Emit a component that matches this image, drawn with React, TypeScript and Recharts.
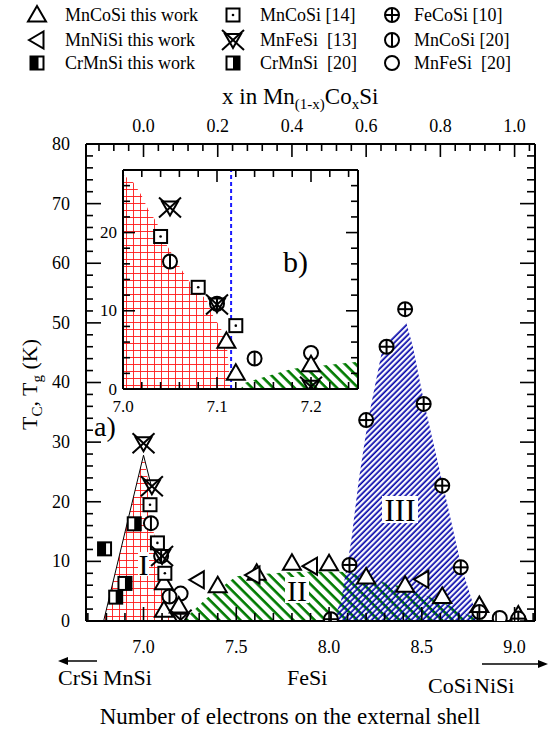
import React from 'react';
import { ComposedChart, XAxis, YAxis, Area, Line, Scatter, ReferenceLine } from 'recharts';

const FONT = 'Liberation Serif, Times New Roman, serif';

// ---- main panel a): electrons on external shell vs T (K) ----
const mnCoSiThisE = [7.11, 7.11, 7.19, 7.40, 7.61, 7.80, 8.00, 8.20, 8.41, 8.61, 8.81, 9.02];
const mnCoSiThisT = [6.4, 1.8, 2.5, 5.9, 8.0, 9.7, 9.6, 7.4, 6.0, 4.1, 2.6, 1.0];
const mnNiSiThisE = [7.29, 7.59, 7.90, 8.50];
const mnNiSiThisT = [6.9, 7.7, 9.2, 7.0];
const crMnSiThisE = [6.79];
const crMnSiThisT = [12.1];
const mnCoSi14E = [7.035, 7.075, 7.115];
const mnCoSi14T = [19.5, 13.1, 8.0];
const mnFeSi13E = [7.0, 7.045, 7.1, 7.2];
const mnFeSi13T = [29.8, 22.6, 10.9, 0.2];
const crMnSi20E = [6.85, 6.90, 6.95];
const crMnSi20T = [4.0, 6.3, 16.3];
const feCoSi10E = [8.01, 8.11, 8.20, 8.31, 8.41, 8.51, 8.61, 8.71, 8.81, 9.02];
const feCoSi10T = [0.3, 9.4, 33.7, 46.0, 52.3, 36.4, 22.7, 9.0, 1.5, 0.4];
const mnCoSi20E = [7.04, 7.095, 7.14];
const mnCoSi20T = [16.4, 10.9, 4.1];
const mnFeSi20E = [7.2, 8.92];
const mnFeSi20T = [4.6, 0.5];

// phase regions (upper boundaries)
const regionIE = [6.785, 7.0, 7.03, 7.04, 7.08, 7.1, 7.146];
const regionIT = [0, 27.8, 22.5, 17, 11.4, 5.7, 0];
const regionIEdgeE = [6.785, 7.0, 7.045];
const regionIEdgeT = [0, 27.8, 22.3];
const regionIIE = [7.21, 7.34, 7.5, 7.6, 7.8, 8.0, 8.1, 8.28, 8.4, 8.6, 8.75, 8.85];
const regionIIT = [0, 3.8, 7.5, 7.8, 8.2, 8.3, 8.2, 6.6, 5.7, 3.3, 1.0, 0];
const regionIIIE = [8.02, 8.065, 8.12, 8.16, 8.21, 8.29, 8.415, 8.452, 8.514, 8.615, 8.714, 8.77, 8.80];
const regionIIIT = [0, 3.5, 13.6, 23.6, 33.7, 46, 50.2, 46, 36.4, 22.7, 9, 3.5, 0];

// ---- inset b) ----
const inMnFeSi13E = [7.05, 7.10, 7.20];
const inMnFeSi13T = [23.2, 10.8, 0.3];
const inMnCoSi14E = [7.04, 7.08, 7.12];
const inMnCoSi14T = [19.5, 13.0, 8.1];
const inMnCoSi20E = [7.05, 7.10, 7.14];
const inMnCoSi20T = [16.3, 10.9, 3.9];
const inMnCoSiThisE = [7.11, 7.12, 7.20];
const inMnCoSiThisT = [6.1, 2.0, 3.1];
const inMnFeSi20E = [7.20];
const inMnFeSi20T = [4.6];
const inRedE = [7.0, 7.011, 7.02, 7.027, 7.036, 7.043, 7.06, 7.074, 7.089, 7.096, 7.103, 7.11, 7.113, 7.114];
const inRedT = [27.4, 26.4, 24.7, 22.9, 21.3, 19.1, 15.7, 13.1, 11.4, 9.3, 8.0, 6.3, 2.0, 0];
const inGreenE = [7.125, 7.13, 7.18, 7.25];
const inGreenT = [0, 0.8, 2.6, 3.5];
const inBoundaryE = 7.115;

// ---- ticks ----
const bottomMajor = [7.0, 7.5, 8.0, 8.5, 9.0];
const topMajor = [0.0, 0.2, 0.4, 0.6, 0.8, 1.0];
const leftMajor = [0, 10, 20, 30, 40, 50, 60, 70, 80];
const insetXMajor = [7.0, 7.1, 7.2];
const insetYMajor = [0, 10, 20];

const range = (a: number, b: number, step: number) =>
  Array.from({ length: Math.round((b - a) / step) + 1 }, (_, i) => +(a + i * step).toFixed(4));

const bottomTicks = range(6.7, 9.1, 0.1);
const topTicks = range(-0.12, 1.04, 0.04);
const leftTicks = range(0, 80, 2);
const insetXTicks = range(7.0, 7.24, 0.02);
const insetYTicks = range(0, 28, 2);

const pts = (e: number[], t: number[]) => e.map((v, i) => ({ e: v, t: t[i] }));
// anchors so the secondary axes (top / right) get a domain
const topAnchor = topMajor.map((x) => ({ x, t: 0 }));
const insetAnchor = insetXMajor.map((e) => ({ e, t: 0 }));

type Kind = 'tri' | 'ltri' | 'crThis' | 'sqDot' | 'xTri' | 'crRef' | 'oplus' | 'ophi' | 'circ';

function Marker({ kind, cx, cy }: { kind: Kind; cx: number; cy: number }) {
  const s = { fill: '#fff', stroke: '#000', strokeWidth: 2 };
  switch (kind) {
    case 'tri':
      return <polygon points={`${cx},${cy - 9} ${cx + 9},${cy + 6.5} ${cx - 9},${cy + 6.5}`} {...s} />;
    case 'ltri':
      return <polygon points={`${cx - 8},${cy} ${cx + 6.5},${cy - 8.5} ${cx + 6.5},${cy + 8.5}`} {...s} />;
    case 'sqDot':
      return (
        <g>
          <rect x={cx - 6.5} y={cy - 6.5} width={13} height={13} {...s} />
          <circle cx={cx} cy={cy} r={1.3} fill="#000" />
        </g>
      );
    case 'crThis':
      return (
        <g>
          <rect x={cx - 6.5} y={cy - 6.5} width={13} height={13} {...s} />
          <rect x={cx - 6.5} y={cy - 6.5} width={8} height={13} fill="#000" />
        </g>
      );
    case 'crRef':
      return (
        <g>
          <rect x={cx - 6.5} y={cy - 6.5} width={13} height={13} {...s} />
          <rect x={cx} y={cy - 6.5} width={6.5} height={13} fill="#000" />
        </g>
      );
    case 'xTri':
      return (
        <g fill="none" stroke="#000" strokeWidth={2}>
          <polygon points={`${cx - 8},${cy - 6} ${cx + 8},${cy - 6} ${cx},${cy + 8}`} />
          <line x1={cx - 11} y1={cy - 10} x2={cx + 11} y2={cy + 10} />
          <line x1={cx + 11} y1={cy - 10} x2={cx - 11} y2={cy + 10} />
        </g>
      );
    case 'oplus':
      return (
        <g>
          <circle cx={cx} cy={cy} r={7} {...s} />
          <line x1={cx - 7} y1={cy} x2={cx + 7} y2={cy} stroke="#000" strokeWidth={2} />
          <line x1={cx} y1={cy - 7} x2={cx} y2={cy + 7} stroke="#000" strokeWidth={2} />
        </g>
      );
    case 'ophi':
      return (
        <g>
          <circle cx={cx} cy={cy} r={7} {...s} />
          <line x1={cx} y1={cy - 7} x2={cx} y2={cy + 7} stroke="#000" strokeWidth={2} />
        </g>
      );
    default:
      return <circle cx={cx} cy={cy} r={7} {...s} />;
  }
}

const shape = (kind: Kind) => (p: any) => <Marker kind={kind} cx={p.cx} cy={p.cy} />;
const noShape = () => <g />;

type Side = 'bottom' | 'top' | 'left' | 'right';
const near = (v: number, list: number[]) => list.some((m) => Math.abs(m - v) < 1e-6);

function tickFactory(
  side: Side,
  majors: number[],
  labels: boolean,
  majorLen: number,
  minorLen: number,
  fontSize: number,
  gap: number,
  fmt: (v: number) => string
) {
  return (props: any) => {
    const { x, y, payload } = props;
    const v = Number(payload.value);
    const major = near(v, majors);
    const L = major ? majorLen : minorLen;
    let x2 = x;
    let y2 = y;
    if (side === 'bottom') y2 = y - L;
    if (side === 'top') y2 = y + L;
    if (side === 'left') x2 = x + L;
    if (side === 'right') x2 = x - L;
    let label = null;
    if (labels && major) {
      const common = { fontSize, fontFamily: FONT, fill: '#000', stroke: 'none' };
      if (side === 'bottom') label = <text x={x} y={y + gap} textAnchor="middle" {...common}>{fmt(v)}</text>;
      if (side === 'top') label = <text x={x} y={y - gap} textAnchor="middle" {...common}>{fmt(v)}</text>;
      if (side === 'left') label = <text x={x - gap} y={y + fontSize * 0.33} textAnchor="end" {...common}>{fmt(v)}</text>;
    }
    return (
      <g>
        <line x1={x} y1={y} x2={x2} y2={y2} stroke="#000" strokeWidth={1.6} />
        {label}
      </g>
    );
  };
}

const axisLine = { stroke: '#000', strokeWidth: 2 };
const f1 = (v: number) => v.toFixed(1);
const f0 = (v: number) => String(Math.round(v));

const legendRows: { kind: Kind; label: string; col: number; row: number }[] = [
  { kind: 'tri', label: 'MnCoSi this work', col: 0, row: 0 },
  { kind: 'ltri', label: 'MnNiSi this work', col: 0, row: 1 },
  { kind: 'crThis', label: 'CrMnSi this work', col: 0, row: 2 },
  { kind: 'sqDot', label: 'MnCoSi [14]', col: 1, row: 0 },
  { kind: 'xTri', label: 'MnFeSi  [13]', col: 1, row: 1 },
  { kind: 'crRef', label: 'CrMnSi  [20]', col: 1, row: 2 },
  { kind: 'oplus', label: 'FeCoSi [10]', col: 2, row: 0 },
  { kind: 'ophi', label: 'MnCoSi [20]', col: 2, row: 1 },
  { kind: 'circ', label: 'MnFeSi  [20]', col: 2, row: 2 },
];
const legendIconX = [37, 233, 392];
const legendTextX = [65, 260, 414];
const legendY = [15, 40, 63];

const A = { xAxisId: 'b', yAxisId: 'l', isAnimationActive: false } as const;
const I = { xAxisId: 'ib', yAxisId: 'il', isAnimationActive: false } as const;
const T = { fontFamily: FONT, fill: '#000' };

export default function App() {
  return (
    <div style={{ position: 'absolute', left: 0, top: 0, width: 557, height: 730, background: '#fff', overflow: 'hidden' }}>
      <svg width={0} height={0} style={{ position: 'absolute' }}>
        <defs>
          <pattern id="redGrid" width={7} height={7} patternUnits="userSpaceOnUse">
            <path d="M0 0.5 H7 M0.5 0 V7" stroke="#ff1a1a" strokeWidth={1} strokeOpacity={0.9} fill="none" />
          </pattern>
          <pattern id="greenHatch" width={7.5} height={7.5} patternUnits="userSpaceOnUse" patternTransform="rotate(-45)">
            <line x1={1.5} y1={0} x2={1.5} y2={7.5} stroke="#007a00" strokeWidth={2.6} />
          </pattern>
          <pattern id="blueHatch" width={4} height={4} patternUnits="userSpaceOnUse" patternTransform="rotate(45)">
            <line x1={1.2} y1={0} x2={1.2} y2={4} stroke="#0000a8" strokeWidth={1.7} />
          </pattern>
        </defs>
      </svg>

      {/* legend */}
      <svg width={557} height={80} style={{ position: 'absolute', left: 0, top: 0 }}>
        {legendRows.map((r) => (
          <g key={r.label}>
            <Marker kind={r.kind} cx={legendIconX[r.col]} cy={legendY[r.row]} />
            <text x={legendTextX[r.col]} y={legendY[r.row] + 6} fontSize={18} {...T} style={{ whiteSpace: 'pre' }}>
              {r.label}
            </text>
          </g>
        ))}
      </svg>

      {/* main chart */}
      <div style={{ position: 'absolute', left: 0, top: 0 }}>
        <ComposedChart width={557} height={730} margin={{ top: 143, right: 21, bottom: 108, left: 85 }}>
          <XAxis xAxisId="b" type="number" dataKey="e" domain={[6.69, 9.11]} allowDataOverflow ticks={bottomTicks} interval={0}
            tick={tickFactory('bottom', bottomMajor, true, 14, 8, 18, 32, f1)} tickLine={false} tickSize={0} tickMargin={0} height={1} axisLine={axisLine} />
          <XAxis xAxisId="t" orientation="top" type="number" dataKey="x" domain={[-0.155, 1.055]} allowDataOverflow ticks={topTicks} interval={0}
            tick={tickFactory('top', topMajor, true, 13, 7, 18, 12, f1)} tickLine={false} tickSize={0} tickMargin={0} height={1} axisLine={axisLine} />
          <YAxis yAxisId="l" type="number" dataKey="t" domain={[0, 80]} allowDataOverflow ticks={leftTicks} interval={0}
            tick={tickFactory('left', leftMajor, true, 15, 7, 18, 16, f0)} tickLine={false} tickSize={0} tickMargin={0} width={1} axisLine={axisLine} />
          <YAxis yAxisId="r" orientation="right" type="number" dataKey="t" domain={[0, 80]} allowDataOverflow ticks={leftTicks} interval={0}
            tick={tickFactory('right', leftMajor, false, 15, 8, 18, 0, f0)} tickLine={false} tickSize={0} tickMargin={0} width={1} axisLine={axisLine} />

          <Area {...A} data={pts(regionIE, regionIT)} dataKey="t" type="linear" stroke="none" fill="url(#redGrid)" fillOpacity={1} />
          <Area {...A} data={pts(regionIIE, regionIIT)} dataKey="t" type="linear" stroke="none" fill="url(#greenHatch)" fillOpacity={1} />
          <Area {...A} data={pts(regionIIIE, regionIIIT)} dataKey="t" type="linear" stroke="none" fill="url(#blueHatch)" fillOpacity={1} />
          <Line {...A} data={pts(regionIEdgeE, regionIEdgeT)} dataKey="t" type="linear" stroke="#000" strokeWidth={1} dot={false} />

          <Scatter xAxisId="t" yAxisId="l" isAnimationActive={false} data={topAnchor} dataKey="t" shape={noShape} />
          <Scatter xAxisId="b" yAxisId="r" isAnimationActive={false} data={pts(feCoSi10E, feCoSi10T)} dataKey="t" shape={noShape} />

          <Scatter {...A} data={pts(crMnSiThisE, crMnSiThisT)} dataKey="t" shape={shape('crThis')} />
          <Scatter {...A} data={pts(crMnSi20E, crMnSi20T)} dataKey="t" shape={shape('crRef')} />
          <Scatter {...A} data={pts(mnFeSi20E, mnFeSi20T)} dataKey="t" shape={shape('circ')} />
          <Scatter {...A} data={pts(mnCoSiThisE, mnCoSiThisT)} dataKey="t" shape={shape('tri')} />
          <Scatter {...A} data={pts(mnNiSiThisE, mnNiSiThisT)} dataKey="t" shape={shape('ltri')} />
          <Scatter {...A} data={pts(mnCoSi20E, mnCoSi20T)} dataKey="t" shape={shape('ophi')} />
          <Scatter {...A} data={pts(mnCoSi14E, mnCoSi14T)} dataKey="t" shape={shape('sqDot')} />
          <Scatter {...A} data={pts(mnFeSi13E, mnFeSi13T)} dataKey="t" shape={shape('xTri')} />
          <Scatter {...A} data={pts(feCoSi10E, feCoSi10T)} dataKey="t" shape={shape('oplus')} />
        </ComposedChart>
      </div>

      {/* inset background */}
      <div style={{ position: 'absolute', left: 123, top: 170, width: 235, height: 219, background: '#fff' }} />

      {/* inset chart b) */}
      <div style={{ position: 'absolute', left: 0, top: 0 }}>
        <ComposedChart width={557} height={730} margin={{ top: 169, right: 198, bottom: 340, left: 122 }}>
          <XAxis xAxisId="ib" type="number" dataKey="e" domain={[7.0, 7.25]} allowDataOverflow ticks={insetXTicks} interval={0}
            tick={tickFactory('bottom', insetXMajor, true, 12, 7, 17, 23, f1)} tickLine={false} tickSize={0} tickMargin={0} height={1} axisLine={axisLine} />
          <XAxis xAxisId="it" orientation="top" type="number" dataKey="e" domain={[7.0, 7.25]} allowDataOverflow ticks={insetXTicks} interval={0}
            tick={tickFactory('top', insetXMajor, false, 12, 7, 17, 0, f1)} tickLine={false} tickSize={0} tickMargin={0} height={1} axisLine={axisLine} />
          <YAxis yAxisId="il" type="number" dataKey="t" domain={[0, 28]} allowDataOverflow ticks={insetYTicks} interval={0}
            tick={tickFactory('left', insetYMajor, true, 12, 7, 17, 6, f0)} tickLine={false} tickSize={0} tickMargin={0} width={1} axisLine={axisLine} />
          <YAxis yAxisId="ir" orientation="right" type="number" dataKey="t" domain={[0, 28]} allowDataOverflow ticks={insetYTicks} interval={0}
            tick={tickFactory('right', insetYMajor, false, 12, 7, 17, 0, f0)} tickLine={false} tickSize={0} tickMargin={0} width={1} axisLine={axisLine} />

          <Area {...I} data={pts(inRedE, inRedT)} dataKey="t" type="linear" stroke="none" fill="url(#redGrid)" fillOpacity={1} />
          <Area {...I} data={pts(inGreenE, inGreenT)} dataKey="t" type="linear" stroke="none" fill="url(#greenHatch)" fillOpacity={1} />
          <ReferenceLine xAxisId="ib" yAxisId="il" x={inBoundaryE} stroke="#1a1aff" strokeWidth={2} strokeDasharray="4 3" />

          <Scatter xAxisId="it" yAxisId="ir" isAnimationActive={false} data={insetAnchor} dataKey="t" shape={noShape} />

          <Scatter {...I} data={pts(inMnFeSi20E, inMnFeSi20T)} dataKey="t" shape={shape('circ')} />
          <Scatter {...I} data={pts(inMnCoSiThisE, inMnCoSiThisT)} dataKey="t" shape={shape('tri')} />
          <Scatter {...I} data={pts(inMnCoSi20E, inMnCoSi20T)} dataKey="t" shape={shape('ophi')} />
          <Scatter {...I} data={pts(inMnCoSi14E, inMnCoSi14T)} dataKey="t" shape={shape('sqDot')} />
          <Scatter {...I} data={pts(inMnFeSi13E, inMnFeSi13T)} dataKey="t" shape={shape('xTri')} />
        </ComposedChart>
      </div>

      {/* annotations */}
      <svg width={557} height={730} style={{ position: 'absolute', left: 0, top: 0, pointerEvents: 'none' }}>
        <rect x={138} y={552} width={11} height={24} fill="#fff" />
        <text x={143.5} y={575} fontSize={30} textAnchor="middle" {...T}>I</text>
        <rect x={285} y={577} width={24} height={26} fill="#fff" />
        <text x={297} y={601} fontSize={30} textAnchor="middle" {...T}>II</text>
        <rect x={382} y={496} width={36} height={27} fill="#fff" />
        <text x={400} y={521} fontSize={31} textAnchor="middle" {...T}>III</text>

        <text x={94} y={436} fontSize={28} {...T}>a)</text>
        <text x={283} y={272} fontSize={30} {...T}>b)</text>

        <text transform="translate(37,430) rotate(-90)" fontSize={22} {...T}>
          T<tspan dy={5} fontSize={15}>C</tspan>
          <tspan dy={-5}>, T</tspan>
          <tspan dy={5} fontSize={15}>g</tspan>
          <tspan dy={-5}> (K)</tspan>
        </text>

        <text x={222} y={104} fontSize={23} {...T}>
          x in Mn<tspan dy={5} fontSize={15}>(1-x)</tspan>
          <tspan dy={-5}>Co</tspan>
          <tspan dy={5} fontSize={15}>x</tspan>
          <tspan dy={-5}>Si</tspan>
        </text>

        <line x1={97} y1={661} x2={64} y2={661} stroke="#000" strokeWidth={1.5} />
        <polygon points="58,661 68,657 68,665" fill="#000" />
        <text x={58} y={685} fontSize={22} {...T}>CrSi</text>
        <text x={103} y={685} fontSize={22} {...T}>MnSi</text>
        <text x={287} y={685} fontSize={22} {...T}>FeSi</text>
        <text x={428} y={693} fontSize={22} {...T}>CoSi</text>
        <text x={474} y={693} fontSize={22} {...T}>NiSi</text>
        <line x1={482} y1={664} x2={542} y2={664} stroke="#000" strokeWidth={1.5} />
        <polygon points="548,664 538,660 538,668" fill="#000" />

        <text x={290} y={724} fontSize={23} textAnchor="middle" {...T}>Number of electrons on the external shell</text>
      </svg>
    </div>
  );
}
